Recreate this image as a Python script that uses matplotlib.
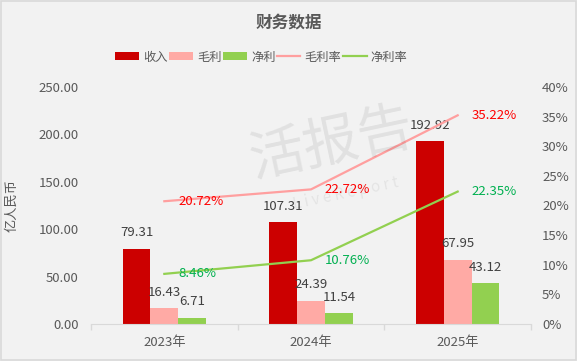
import numpy as np
import matplotlib
matplotlib.use("Agg")
import matplotlib.pyplot as plt

plt.rcParams['font.family'] = ['Noto Sans CJK SC', 'DejaVu Sans']

# data
years = ["2023年", "2024年", "2025年"]
revenue = [79.31, 107.31, 192.92]
gross = [16.43, 24.39, 67.95]
net = [6.71, 11.54, 43.12]
gross_margin = [20.72, 22.72, 35.22]
net_margin = [8.46, 10.76, 22.35]

grey = "#595959"
dark = "#404040"
c_rev = "#cc0000"
c_gross = "#ffaaa5"
c_net = "#92d050"
c_gm_line = "#ff9f9f"
c_gm_txt = "#ff0000"
c_nm_txt = "#00b050"

fig = plt.figure(figsize=(5.77, 3.61), dpi=100, facecolor="#f2f2f2")
fig.patches.append(plt.Rectangle((0.001, 0.002), 0.997, 0.995, transform=fig.transFigure,
                                 fill=False, edgecolor="#d9d9d9", lw=1.2))
ax = fig.add_axes([0.1577, 0.1025, 0.7626, 0.6565])
ax.set_facecolor("none")
ax2 = ax.twinx()

x = np.arange(len(years))
w = 0.19
b1 = ax.bar(x - w, revenue, w, color=c_rev, label="收入", zorder=2)
b2 = ax.bar(x, gross, w, color=c_gross, label="毛利", zorder=2)
b3 = ax.bar(x + w, net, w, color=c_net, label="净利", zorder=2)

for bars in (b1, b2, b3):
    for r in bars:
        ax.annotate(f"{r.get_height():.2f}", (r.get_x() + r.get_width() / 2, r.get_height()),
                    xytext=(0, 11.5), textcoords="offset points", ha="center", va="center",
                    fontsize=9.5, color=dark, zorder=5)

l1, = ax2.plot(x, np.array(gross_margin) / 100, color=c_gm_line, lw=1.6, label="毛利率", zorder=3)
l2, = ax2.plot(x, np.array(net_margin) / 100, color=c_net, lw=1.6, label="净利率", zorder=3)
for vals, col in ((gross_margin, c_gm_txt), (net_margin, c_nm_txt)):
    for xi, v in zip(x, vals):
        ax2.annotate(f"{v:.2f}%", (xi, v / 100), xytext=(10, 0), textcoords="offset points",
                     ha="left", va="center", fontsize=9.5, color=col, zorder=5)

ax.set_xlim(-0.5, 2.5)
ax.set_ylim(0, 250)
ax.set_yticks(np.arange(0, 251, 50))
ax.set_yticklabels([f"{v:.2f}" for v in np.arange(0, 251, 50)])
ax2.set_ylim(0, 0.40)
ax2.set_yticks(np.arange(0, 0.41, 0.05))
ax2.set_yticklabels([f"{int(round(v * 100))}%" for v in np.arange(0, 0.41, 0.05)])

ax.set_xticks(x)
ax.set_xticklabels(years)
ax.set_xticks([-0.5, 0.5, 1.5, 2.5], minor=True)
ax.tick_params(axis="x", which="major", length=0, pad=9, labelsize=9.5, labelcolor=grey)
ax.tick_params(axis="x", which="minor", length=4, color="#d9d9d9", width=1)
ax.tick_params(axis="y", length=0, pad=9, labelsize=9.5, labelcolor=grey)
ax2.tick_params(axis="y", length=0, pad=8, labelsize=9.5, labelcolor=grey)

for a in (ax, ax2):
    for s in a.spines.values():
        s.set_visible(False)
ax.spines["bottom"].set_visible(True)
ax.spines["bottom"].set_color("#d9d9d9")

ax.set_ylabel("亿人民币", fontsize=9.5, color=grey, labelpad=6)
ax.yaxis.set_label_coords(-0.165, 0.5)

# watermark
fig.text(0.575, 0.60, "活报告", fontsize=40, color="#000000", alpha=0.07, rotation=12,
         ha="center", va="center", zorder=0)
fig.text(0.60, 0.465, "L i v e R e p o r t", fontsize=11, color="#000000", alpha=0.06, rotation=12,
         ha="center", va="center", zorder=0)

fig.text(0.5, 0.939, "财务数据", fontsize=12, fontweight="bold", color=grey, ha="center", va="center")

fig.legend(handles=[b1, b2, b3, l1, l2], loc="center", bbox_to_anchor=(0.453, 0.842), ncol=5,
           frameon=False, fontsize=8.8, labelcolor=grey, handlelength=1.95, handleheight=0.68,
           handletextpad=0.35, columnspacing=0.1, borderpad=0)

fig.savefig("out.png", dpi=100, facecolor=fig.get_facecolor())
